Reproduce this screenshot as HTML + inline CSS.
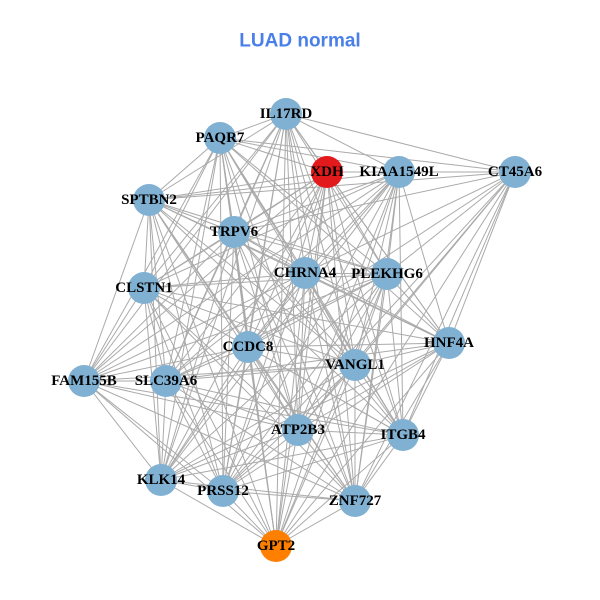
<!DOCTYPE html>
<html><head><meta charset="utf-8"><style>
html,body{margin:0;padding:0;background:#fff;}
svg{display:block;}
text.l{font-family:"Liberation Serif",serif;font-weight:bold;font-size:15px;fill:#000;text-anchor:middle;dominant-baseline:central;}
</style></head><body>
<svg id="s" width="600" height="600" viewBox="0 0 600 600" xmlns="http://www.w3.org/2000/svg">
<rect width="600" height="600" fill="#fff"/>
<text x="300" y="41" text-anchor="middle" dominant-baseline="central" font-family="Liberation Sans, sans-serif" font-weight="bold" font-size="19" fill="#4a7fe8">LUAD normal</text>
<g id="e" stroke="#aaaaaa" stroke-width="1"></g>
<g id="n"></g>
</svg>
<script>
var N=[["IL17RD",286,114,"#80b1d3"],["PAQR7",220,138,"#80b1d3"],["XDH",327,172,"#e31a1c"],["KIAA1549L",399,172,"#80b1d3"],["CT45A6",515,172,"#80b1d3"],["SPTBN2",149,200,"#80b1d3"],["TRPV6",234,232,"#80b1d3"],["CHRNA4",305,273,"#80b1d3"],["PLEKHG6",387,274,"#80b1d3"],["CLSTN1",144,288,"#80b1d3"],["HNF4A",449,343,"#80b1d3"],["CCDC8",248,347,"#80b1d3"],["VANGL1",355,365,"#80b1d3"],["FAM155B",84,381,"#80b1d3"],["SLC39A6",166,381,"#80b1d3"],["ATP2B3",298,430,"#80b1d3"],["ITGB4",403,435,"#80b1d3"],["KLK14",161,480,"#80b1d3"],["PRSS12",223,491,"#80b1d3"],["ZNF727",355,501,"#80b1d3"],["GPT2",276,546,"#ff7f00"]];
var ns="http://www.w3.org/2000/svg",e=document.getElementById("e"),g=document.getElementById("n");
var skip={"4-13":1,"4-17":1,"4-9":1,"13-10":1,"4-14":1};
for(var i=0;i<N.length;i++)for(var j=i+1;j<N.length;j++){if(skip[i+"-"+j]||skip[j+"-"+i])continue;
var l=document.createElementNS(ns,"line");l.setAttribute("x1",N[i][1]);l.setAttribute("y1",N[i][2]);l.setAttribute("x2",N[j][1]);l.setAttribute("y2",N[j][2]);e.appendChild(l);}
N.forEach(function(d){var c=document.createElementNS(ns,"circle");c.setAttribute("cx",d[1]);c.setAttribute("cy",d[2]);c.setAttribute("r",16);c.setAttribute("fill",d[3]);g.appendChild(c);});
N.forEach(function(d){var t=document.createElementNS(ns,"text");t.setAttribute("x",d[1]);t.setAttribute("y",d[2]);t.setAttribute("class","l");t.textContent=d[0];g.appendChild(t);});
</script>
</body></html>
